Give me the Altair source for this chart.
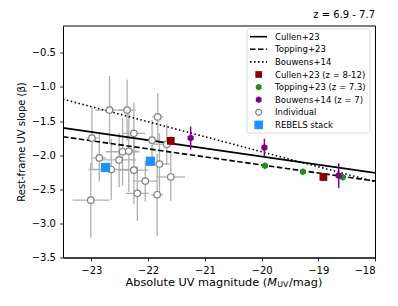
import altair as alt
import pandas as pd

# ---------------- data ----------------
ind_M = [-22.68, -22.37, -21.83, -22.25, -22.99, -21.93, -21.67, -22.86, -22.45, -22.34,
         -22.51, -22.65, -22.25, -21.80, -21.60, -22.05, -22.19, -21.84, -23.01]
ind_beta = [-1.34, -1.34, -1.44, -1.68, -1.75, -1.78, -1.84, -2.04, -1.95, -1.94,
            -2.07, -2.21, -2.22, -2.13, -2.32, -2.38, -2.56, -2.58, -2.66]
ind_xerr = [0.25, 0.15, 0.10, 0.20, 0.10, 0.12, 0.25, 0.12, 0.30, 0.15,
            0.30, 0.40, 0.25, 0.18, 0.25, 0.22, 0.20, 0.10, 0.32]
ind_yerr = [0.50, 0.45, 0.35, 0.45, 0.45, 0.30, 0.30, 0.35, 0.50, 0.60,
            0.40, 0.45, 0.50, 0.45, 0.35, 0.30, 0.40, 0.60, 0.55]

stack_M = [-22.75, -21.96]
stack_beta = [-2.18, -2.09]
stack_err = [0.05, 0.05]

cullen_M = [-21.60, -18.91]
cullen_beta = [-1.79, -2.32]
cullen_err = [0.06, 0.06]

topping_M = [-19.94, -19.27, -18.57]
topping_beta = [-2.155, -2.243, -2.325]

bouwens_M = [-21.25, -19.95, -18.64]
bouwens_beta = [-1.75, -1.89, -2.30]
bouwens_err = [0.17, 0.13, 0.18]

# fitted relations (end points)
fit_M = [-23.5, -18.0]
fit_cullen = [-1.60, -2.26]
fit_topping = [-1.73, -2.38]
fit_bouwens = [-1.18, -2.39]

legend_labels = ["Cullen+23", "Topping+23", "Bouwens+14", "Cullen+23 (z = 8-12)",
                 "Topping+23 (z = 7.3)", "Bouwens+14 (z = 7)", "Individual", "REBELS stack"]

# ---------------- style ----------------
W, H = 312, 232
FONT = "DejaVu Sans"
RED = "#8b0000"
GREEN = "#228b22"
PURPLE = "#800080"
BLUE = "#1e90ff"
GREYBAR = "#b0b0b0"
HEX = "M0,-1L0.866,-0.5L0.866,0.5L0,1L-0.866,0.5L-0.866,-0.5Z"

xs = alt.Scale(domain=[-23.5, -18], nice=False, zero=False)
ys = alt.Scale(domain=[-3.5, -0.1], nice=False, zero=False)

x_axis = alt.Axis(values=[-23, -22, -21, -20, -19, -18], title=None,
                  labelExpr="replace(format(datum.value, 'd'), '-', '\u2212')")
y_axis = alt.Axis(values=[-3.5, -3.0, -2.5, -2.0, -1.5, -1.0, -0.5],
                  title="Rest-frame UV slope (\u03b2)",
                  labelExpr="replace(format(datum.value, '.1f'), '-', '\u2212')")


def X(f):
    return alt.X(f, type="quantitative", scale=xs, axis=x_axis)


def Y(f):
    return alt.Y(f, type="quantitative", scale=ys, axis=y_axis)


ind = pd.DataFrame({"M": ind_M, "b": ind_beta})
ind["xlo"] = [m - e for m, e in zip(ind_M, ind_xerr)]
ind["xhi"] = [m + e for m, e in zip(ind_M, ind_xerr)]
ind["ylo"] = [b - e for b, e in zip(ind_beta, ind_yerr)]
ind["yhi"] = [b + e for b, e in zip(ind_beta, ind_yerr)]

stack = pd.DataFrame({"M": stack_M, "b": stack_beta})
stack["ylo"] = [b - e for b, e in zip(stack_beta, stack_err)]
stack["yhi"] = [b + e for b, e in zip(stack_beta, stack_err)]

cul = pd.DataFrame({"M": cullen_M, "b": cullen_beta})
cul["ylo"] = [b - e for b, e in zip(cullen_beta, cullen_err)]
cul["yhi"] = [b + e for b, e in zip(cullen_beta, cullen_err)]

top = pd.DataFrame({"M": topping_M, "b": topping_beta})

bou = pd.DataFrame({"M": bouwens_M, "b": bouwens_beta})
bou["ylo"] = [b - e for b, e in zip(bouwens_beta, bouwens_err)]
bou["yhi"] = [b + e for b, e in zip(bouwens_beta, bouwens_err)]

fits = pd.DataFrame({"M": fit_M, "c": fit_cullen, "t": fit_topping, "w": fit_bouwens})

layers = []

# grey error bars of individual galaxies
layers.append(alt.Chart(ind).mark_rule(color=GREYBAR, strokeWidth=1.3).encode(
    x=X("M"), y=Y("ylo"), y2="yhi"))
layers.append(alt.Chart(ind).mark_rule(color=GREYBAR, strokeWidth=1.3).encode(
    x=X("xlo"), x2="xhi", y=Y("b")))

# relations
layers.append(alt.Chart(fits).mark_line(color="black", strokeWidth=1.6).encode(
    x=X("M"), y=Y("c")))
layers.append(alt.Chart(fits).mark_line(color="black", strokeWidth=1.6, strokeDash=[5.5, 2.5]).encode(
    x=X("M"), y=Y("t")))
layers.append(alt.Chart(fits).mark_line(color="black", strokeWidth=1.6, strokeDash=[1.5, 2.5]).encode(
    x=X("M"), y=Y("w")))

# individual galaxies
layers.append(alt.Chart(ind).mark_point(shape="circle", filled=True, fill="white", stroke="#7f7f7f",
                                        strokeWidth=1.2, size=42, opacity=1).encode(
    x=X("M"), y=Y("b")))

# REBELS stack
layers.append(alt.Chart(stack).mark_rule(color=BLUE, strokeWidth=1.5).encode(
    x=X("M"), y=Y("ylo"), y2="yhi"))
layers.append(alt.Chart(stack).mark_point(shape="square", filled=True, color=BLUE, size=85, opacity=1).encode(
    x=X("M"), y=Y("b")))

# Cullen+23
layers.append(alt.Chart(cul).mark_rule(color=RED, strokeWidth=1.5).encode(
    x=X("M"), y=Y("ylo"), y2="yhi"))
layers.append(alt.Chart(cul).mark_point(shape="square", filled=True, color=RED, size=60, opacity=1).encode(
    x=X("M"), y=Y("b")))

# Topping+23
layers.append(alt.Chart(top).mark_point(shape=HEX, filled=True, color=GREEN, size=50, opacity=1).encode(
    x=X("M"), y=Y("b")))

# Bouwens+14
layers.append(alt.Chart(bou).mark_rule(color=PURPLE, strokeWidth=1.5).encode(
    x=X("M"), y=Y("ylo"), y2="yhi"))
layers.append(alt.Chart(bou).mark_point(shape=HEX, filled=True, color=PURPLE, size=50, opacity=1).encode(
    x=X("M"), y=Y("b")))

# ---------------- legend ----------------
one = pd.DataFrame({"a": [0]})
layers.append(alt.Chart(one).mark_rect(fill="white", stroke="#cccccc", strokeWidth=0.8,
                                       cornerRadius=2, opacity=0.9).encode(
    x=alt.value(184), x2=alt.value(307), y=alt.value(3.5), y2=alt.value(107.5)))

row_y = [11.2 + 12.6 * i for i in range(8)]
dashes = [None, [5.5, 2.5], [1.5, 2.5]]
for i in range(3):
    kw = {"color": "black", "strokeWidth": 1.6}
    if dashes[i] is not None:
        kw["strokeDash"] = dashes[i]
    layers.append(alt.Chart(one).mark_rule(**kw).encode(
        x=alt.value(187), x2=alt.value(204), y=alt.value(row_y[i])))

mk = [
    dict(shape="square", filled=True, color=RED, size=45),
    dict(shape=HEX, filled=True, color=GREEN, size=45),
    dict(shape=HEX, filled=True, color=PURPLE, size=45),
    dict(shape="circle", filled=True, fill="white", stroke="#7f7f7f", strokeWidth=1.2, size=36),
    dict(shape="square", filled=True, color=BLUE, size=75),
]
for j, m in enumerate(mk):
    layers.append(alt.Chart(one).mark_point(opacity=1, **m).encode(
        x=alt.value(195.7), y=alt.value(row_y[3 + j])))

for i, lab in enumerate(legend_labels):
    layers.append(alt.Chart(one).mark_text(text=lab, font=FONT, fontSize=8.5, align="left",
                                           baseline="middle", color="black").encode(
        x=alt.value(212), y=alt.value(row_y[i])))

# ---------------- title and x-axis title ----------------
layers.append(alt.Chart(one).mark_text(text="z = 6.9 - 7.7", font=FONT, fontSize=10, align="right",
                                       baseline="middle", color="black").encode(
    x=alt.value(W), y=alt.value(-10.5)))

ty = H + 25
x0 = 62.5
fs = 11.3
layers.append(alt.Chart(one).mark_text(text="Absolute UV magnitude (", font=FONT, fontSize=fs,
                                       align="left", baseline="middle", color="black").encode(
    x=alt.value(x0), y=alt.value(ty)))
layers.append(alt.Chart(one).mark_text(text="M", font=FONT, fontSize=fs, fontStyle="italic",
                                       align="left", baseline="middle", color="black").encode(
    x=alt.value(x0 + 141.7), y=alt.value(ty)))
layers.append(alt.Chart(one).mark_text(text="UV", font=FONT, fontSize=7.9,
                                       align="left", baseline="middle", color="black").encode(
    x=alt.value(x0 + 151.8), y=alt.value(ty + 2.8)))
layers.append(alt.Chart(one).mark_text(text="/mag)", font=FONT, fontSize=fs,
                                       align="left", baseline="middle", color="black").encode(
    x=alt.value(x0 + 163.5), y=alt.value(ty)))

chart = alt.layer(*layers).properties(
    width=W, height=H,
    autosize=alt.AutoSizeParams(type="none"),
    padding={"left": 55, "top": 17.5, "right": 15, "bottom": 40},
).configure_view(stroke="black", strokeWidth=1).configure_axis(
    grid=False, domainColor="black", domainWidth=1, tickColor="black", tickWidth=0.8, tickSize=3.5,
    labelFont=FONT, labelFontSize=10, labelColor="black", labelPadding=4,
    titleFont=FONT, titleFontSize=10, titleFontWeight="normal", titleColor="black", titlePadding=5,
)

chart.save("out.html", embed_options={"renderer": "svg", "actions": False})
